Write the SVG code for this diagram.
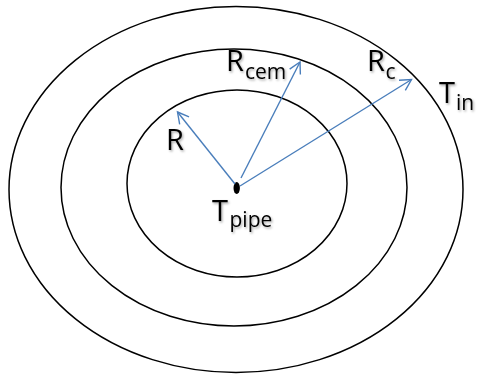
<svg xmlns="http://www.w3.org/2000/svg" width="477" height="377" viewBox="0 0 477 377">
<style>
.ring{fill:none;stroke:#000;stroke-width:1.5}
.arrow{fill:none;stroke:#4a7ebb;stroke-width:1.4}
.lbl{font-family:"Open Sans",Lato,"Liberation Sans",sans-serif;font-size:29px;fill:#000;filter:url(#sh)}
.sub{font-size:21px}
</style>
<defs>
<filter id="sh" x="-20%" y="-20%" width="140%" height="140%">
<feDropShadow dx="1.2" dy="1.5" stdDeviation="1" flood-color="#000" flood-opacity="0.35"/>
</filter>
<marker id="ah" viewBox="-13 -8 15 16" refX="0" refY="0" markerWidth="15" markerHeight="16" markerUnits="userSpaceOnUse" orient="auto">
<path d="M-11,-6 L0,0 L-11,6" fill="none" stroke="#4a7ebb" stroke-width="1.4"/>
</marker>
</defs>
<g id="outer"><ellipse class="ring" cx="236" cy="189.5" rx="227" ry="183"/></g>
<g id="middle"><ellipse class="ring" cx="234" cy="187.5" rx="173" ry="138.5"/></g>
<g id="inner"><ellipse class="ring" cx="237" cy="183.5" rx="110" ry="93.5"/></g>
<g id="center"><ellipse cx="236.7" cy="188" rx="3.2" ry="6" fill="#000"/></g>
<g id="connectors">
<line class="arrow" x1="235" y1="184" x2="177.5" y2="112" marker-end="url(#ah)"/>
<line class="arrow" x1="241" y1="178" x2="300" y2="62" marker-end="url(#ah)"/>
<line class="arrow" x1="240" y1="186" x2="411.5" y2="79.5" marker-end="url(#ah)"/>
</g>
<g id="labels">
<text class="lbl" x="166" y="150">R</text>
<text class="lbl" x="226" y="71">R<tspan class="sub" x="245" y="78.5">cem</tspan></text>
<text class="lbl" x="367" y="71">R<tspan class="sub" x="385.5" y="78.5">c</tspan></text>
<text class="lbl" x="439" y="103">T<tspan class="sub" x="456" y="110">in</tspan></text>
<text class="lbl" x="212" y="221">T<tspan class="sub" x="229.5" y="227">pipe</tspan></text>
</g>
</svg>
